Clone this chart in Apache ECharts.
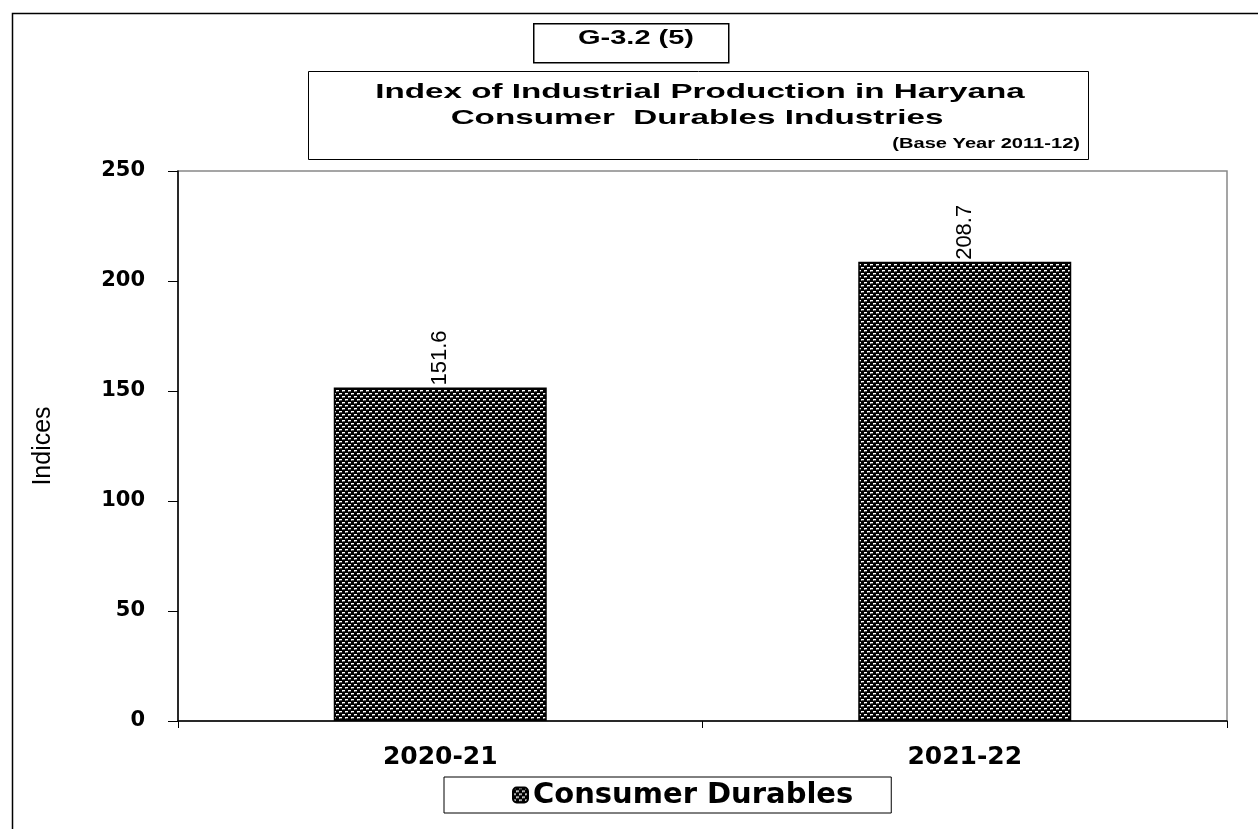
<!DOCTYPE html>
<html><head><meta charset="utf-8">
<script src="https://cdn.jsdelivr.net/npm/echarts@6/dist/echarts.min.js"></script>
<style>html,body{margin:0;padding:0;background:#fff}#c{width:1258px;height:829px}</style>
</head><body><div id="c"></div>
<script>
const categories = ['2020-21', '2021-22'];
const values = [151.6, 208.7];
const seriesName = 'Consumer Durables';
const yTicks = [0, 50, 100, 150, 200, 250];

function makePattern(){
  const c = document.createElement('canvas');
  c.width = 6; c.height = 6;
  const g = c.getContext('2d');
  g.fillStyle = '#000'; g.fillRect(0,0,6,6);
  g.fillStyle = '#fff';
  g.fillRect(0,0,3,1); g.fillRect(3,3,3,1);
  g.fillStyle = '#999';
  g.fillRect(0,1,1,1); g.fillRect(3,4,1,1);
  g.fillStyle = '#555';
  g.fillRect(1,1,2,1); g.fillRect(4,4,2,1);
  return c;
}
const pat = {image: makePattern(), repeat: 'repeat'};

const wide = 'DejaVu Sans, Verdana, sans-serif';
const narrow = 'Liberation Sans Narrow, Arial Narrow, Liberation Sans, sans-serif';
const chart = echarts.init(document.getElementById('c'));
chart.setOption({
  animation: false,
  backgroundColor: '#fff',
  grid: {left: 178, right: 31, top: 171, bottom: 108, show: true, borderColor: '#888', borderWidth: 1.5},
  legend: {
    top: 777, left: 444,
    data: [seriesName],
    borderColor: '#000', borderWidth: 1,
    padding: [3, 38, 3, 68],
    itemWidth: 15, itemHeight: 15,
    textStyle: {fontFamily: wide, fontWeight: 'bold', fontSize: 29, lineHeight: 30, color: '#000'}
  },
  xAxis: {
    type: 'category', data: categories,
    axisLine: {lineStyle: {color: '#000', width: 1.5}},
    axisTick: {show: true, alignWithLabel: false, length: 7, lineStyle: {color: '#000'}},
    axisLabel: {margin: 24, fontFamily: wide, fontWeight: 'bold', fontSize: 25, color: '#000'}
  },
  yAxis: {
    type: 'value', min: 0, max: 250, interval: 50,
    name: 'Indices', nameLocation: 'middle', nameGap: 122,
    nameTextStyle: {fontFamily: narrow, fontSize: 25, color: '#000'},
    axisLine: {show: true, lineStyle: {color: '#000', width: 1.5}},
    axisTick: {show: true, length: 10, lineStyle: {color: '#000'}},
    splitLine: {show: false},
    axisLabel: {margin: 33, fontFamily: wide, fontWeight: 'bold', fontSize: 21, color: '#000'}
  },
  series: [{
    name: seriesName, type: 'bar', data: values, barWidth: 213,
    itemStyle: {color: pat, borderColor: '#000', borderWidth: 1.5},
    label: {show: true, position: 'top', rotate: 90, distance: 2, align: 'left', verticalAlign: 'middle',
      fontFamily: narrow, fontSize: 22, color: '#000',
      formatter: p => p.value.toFixed(1)}
  }],
  graphic: [
    {type: 'rect', left: 10, top: 11, shape: {width: 1300, height: 900}, style: {fill: 'none', stroke: '#000', lineWidth: 1.5}, silent: true, z: -10},
    {type: 'rect', left: 533, top: 23, shape: {width: 195, height: 39}, style: {fill: '#fff', stroke: '#000', lineWidth: 1.5}},
    {type: 'text', x: 636, y: 38, scaleX: 1.38, style: {text: 'G-3.2 (5)', font: 'bold 21px Liberation Sans, Arial', fill: '#000', align: 'center', verticalAlign: 'middle'}},
    {type: 'rect', left: 308, top: 71, shape: {width: 780, height: 88}, style: {fill: '#fff', stroke: '#000', lineWidth: 1}},
    {type: 'text', x: 700, y: 92, scaleX: 1.62, style: {text: 'Index of Industrial Production in Haryana', font: 'bold 20.5px Liberation Sans, Arial', fill: '#000', align: 'center', verticalAlign: 'middle'}},
    {type: 'text', x: 697, y: 118, scaleX: 1.62, style: {text: 'Consumer  Durables Industries', font: 'bold 20.5px Liberation Sans, Arial', fill: '#000', align: 'center', verticalAlign: 'middle'}},
    {type: 'text', x: 1080, y: 144, scaleX: 1.34, style: {text: '(Base Year 2011-12)', font: 'bold 15px Liberation Sans, Arial', fill: '#000', align: 'right', verticalAlign: 'middle'}}
  ]
});
</script>
</body></html>
